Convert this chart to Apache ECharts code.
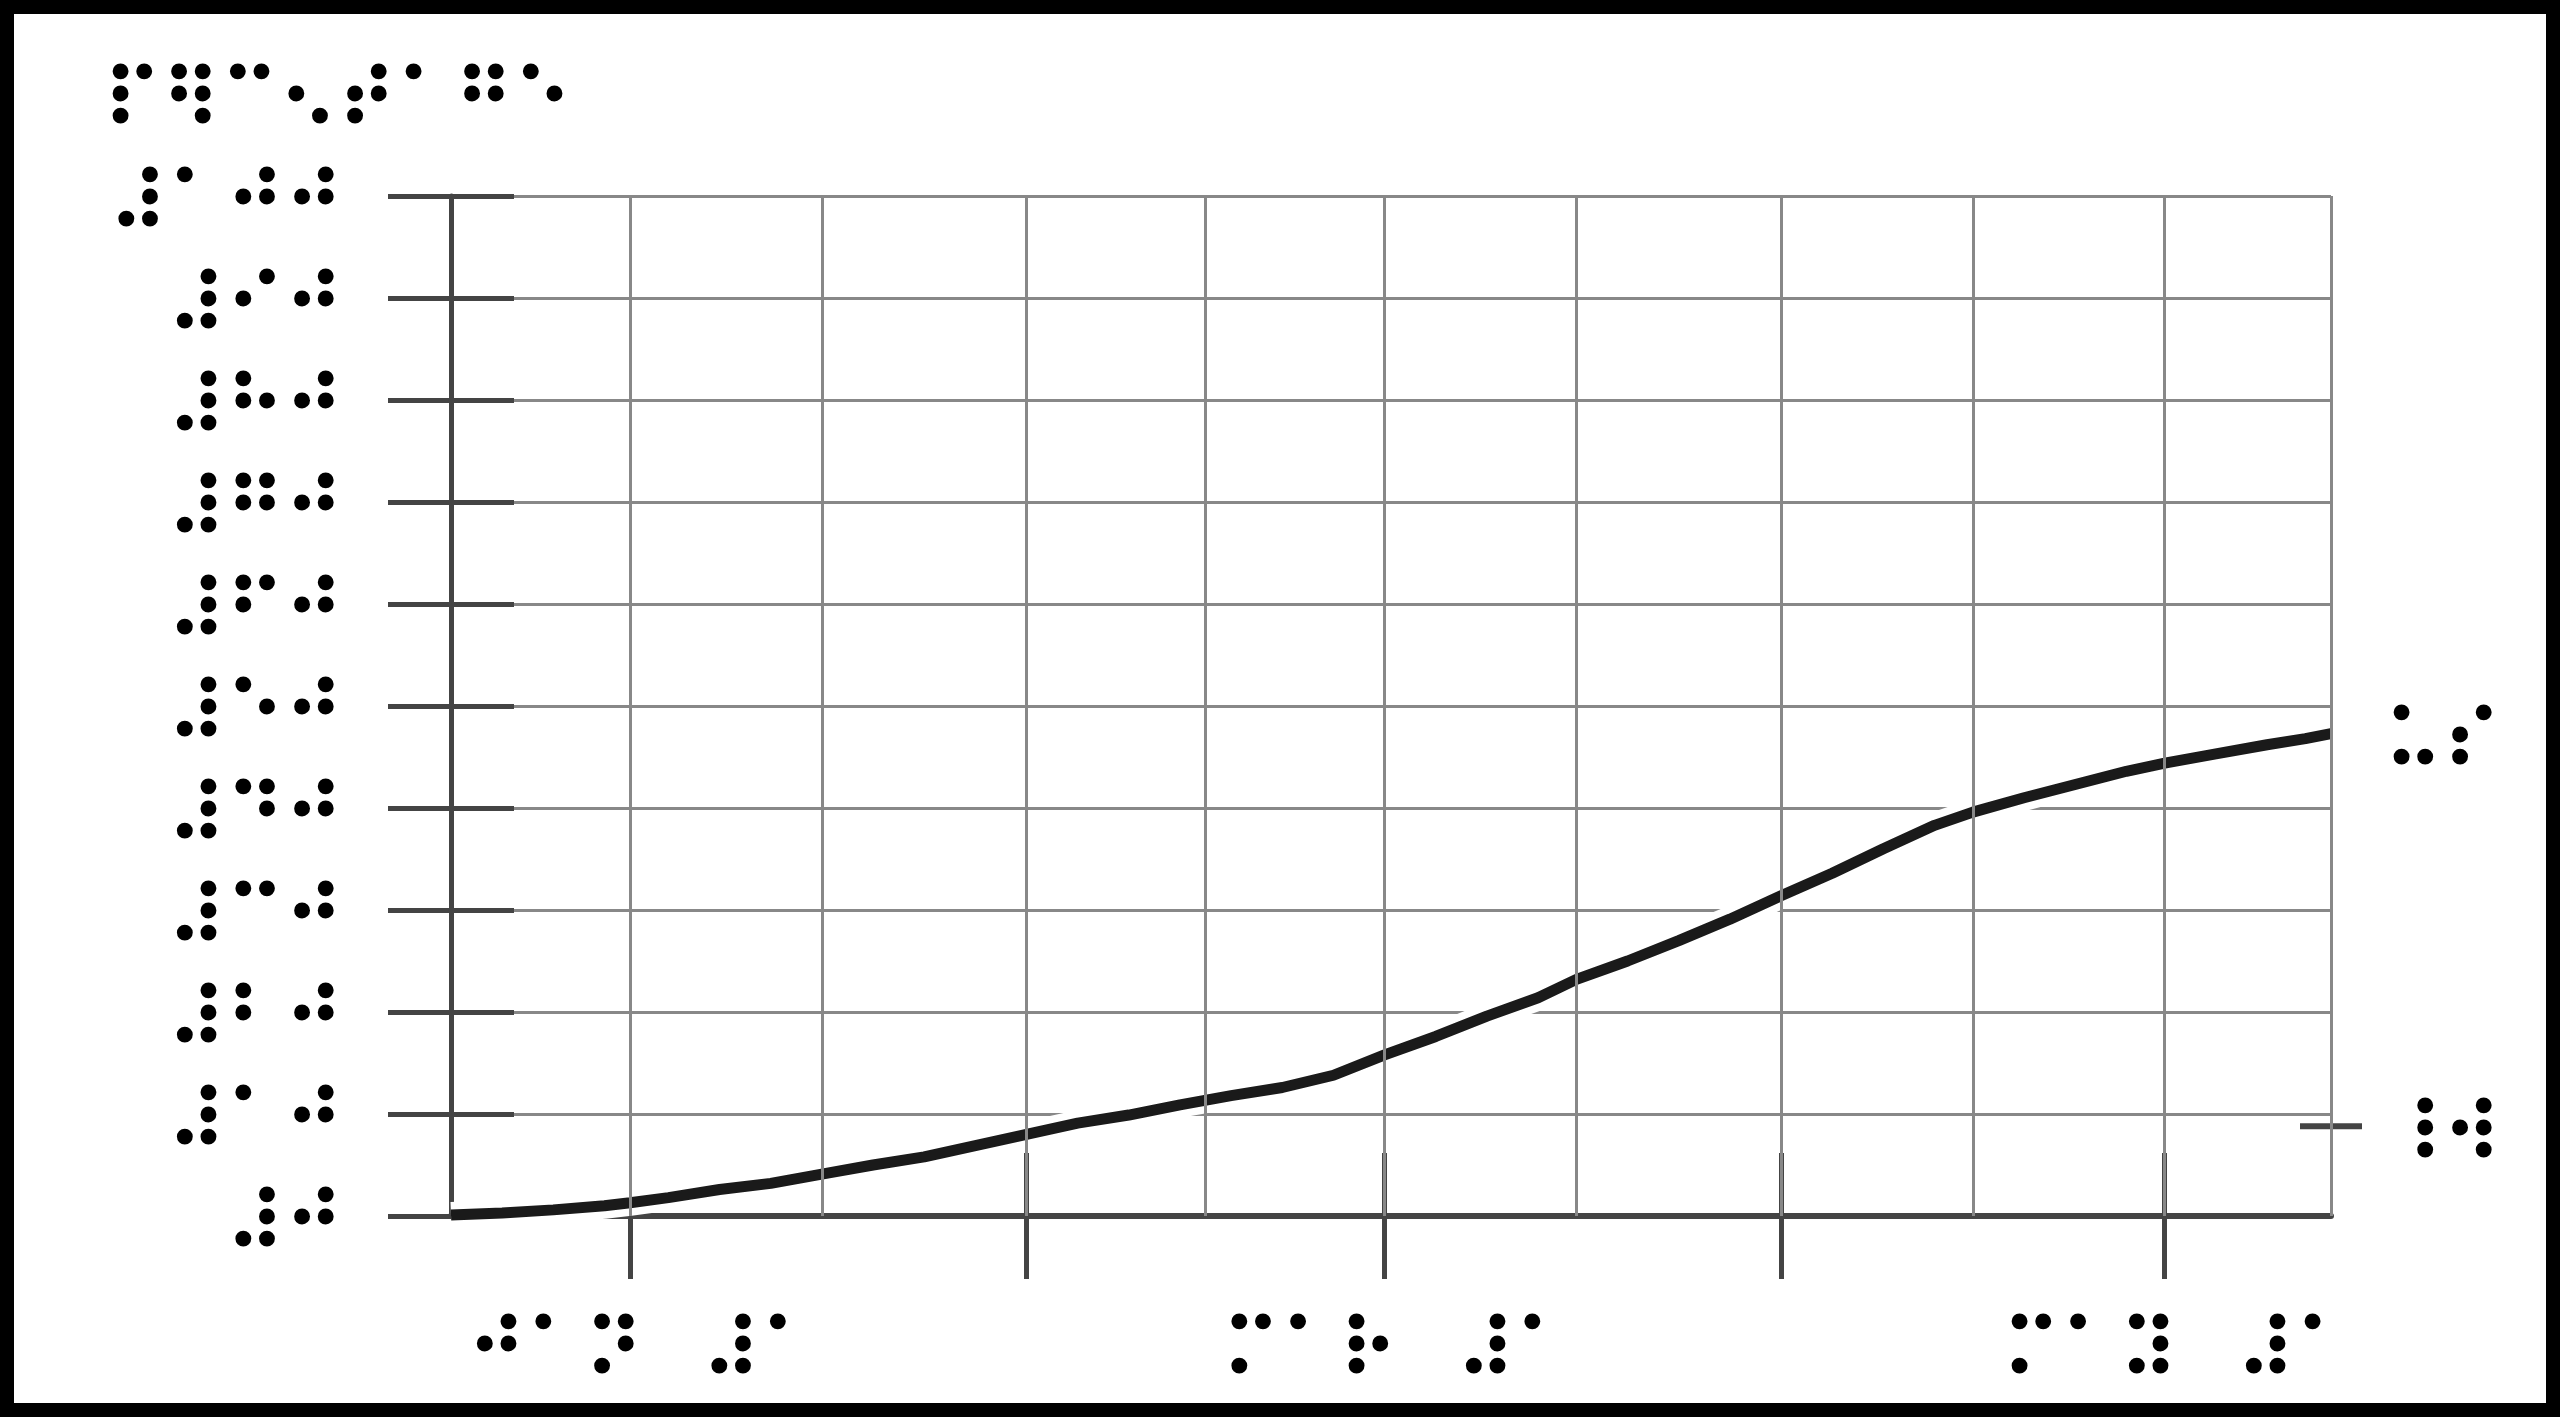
<!DOCTYPE html>
<html><head><meta charset="utf-8">
<script src="https://cdn.jsdelivr.net/npm/echarts@6/dist/echarts.min.js"></script>
<style>html,body{margin:0;padding:0;background:#fff}#c{width:2560px;height:1417px}</style>
</head><body><div id="c"></div>
<script>
const titleText = '⠏⠻⠉⠢⠞⠁⠛⠑';
const yTickValues = [0, 10, 20, 30, 40, 50, 60, 70, 80, 90, 100];
const yTickLabels = ['⠼⠚', '⠼⠁⠚', '⠼⠃⠚', '⠼⠉⠚', '⠼⠙⠚', '⠼⠑⠚', '⠼⠋⠚', '⠼⠛⠚', '⠼⠓⠚', '⠼⠊⠚', '⠼⠁⠚⠚'];
const xMin = '2020-12-18';
const xMax = '2021-05-14';
const gridDates = ['2021-01-01', '2021-01-16', '2021-02-01', '2021-02-15', '2021-03-01', '2021-03-16', '2021-04-01', '2021-04-16', '2021-05-01', '2021-05-14'];
const monthTickDates = ['2021-01-01', '2021-02-01', '2021-03-01', '2021-04-01', '2021-05-01'];
const innerTickDates = ['2021-02-01', '2021-03-01', '2021-04-01', '2021-05-01'];
const xLabelDates = ['2021-01-01', '2021-03-01', '2021-05-01'];
const xLabelTexts = ['⠚⠁⠝⠀⠼⠁', '⠍⠁⠗⠀⠼⠁', '⠍⠁⠽⠀⠼⠁'];
const usName = '⠥⠎';
const usDates = ['2020-12-18', '2020-12-22', '2020-12-26', '2020-12-30', '2021-01-01', '2021-01-04', '2021-01-08', '2021-01-12', '2021-01-16', '2021-01-20', '2021-01-24', '2021-01-28', '2021-02-01', '2021-02-05', '2021-02-09', '2021-02-13', '2021-02-17', '2021-02-21', '2021-02-25', '2021-03-01', '2021-03-05', '2021-03-09', '2021-03-13', '2021-03-16', '2021-03-20', '2021-03-24', '2021-03-28', '2021-04-01', '2021-04-05', '2021-04-09', '2021-04-13', '2021-04-16', '2021-04-20', '2021-04-24', '2021-04-28', '2021-05-01', '2021-05-05', '2021-05-09', '2021-05-12', '2021-05-14'];
const usValues = [0.1, 0.3, 0.6, 1.0, 1.3, 1.8, 2.6, 3.2, 4.1, 5.0, 5.8, 6.9, 8.0, 9.1, 9.9, 10.9, 11.8, 12.6, 13.8, 15.8, 17.6, 19.6, 21.4, 23.2, 25.0, 27.0, 29.1, 31.4, 33.6, 36.0, 38.3, 39.6, 41.0, 42.3, 43.6, 44.4, 45.3, 46.2, 46.8, 47.3];
const worldName = '⠸⠺';
const worldDate = '2021-05-14';
const worldValue = 8.8;

const ts = s => new Date(s + 'T00:00:00').getTime();
const FONT = 'DejaVu Serif';
const FS = 80;
const AX = '#444';
const DOT = { fontFamily: FONT, fontSize: FS, color: '#000', textBorderColor: '#000', textBorderWidth: 3 };
const usData = usDates.map((d, i) => [ts(d), usValues[i]]);
const labelTs = xLabelDates.map(ts);

const chart = echarts.init(document.getElementById('c'));
chart.setOption({
  animation: false,
  backgroundColor: '#fff',
  title: { text: titleText, left: 98, top: 62, textStyle: Object.assign({ fontWeight: 'normal' }, DOT) },
  grid: { left: 451, right: 229, top: 196, bottom: 201, containLabel: false },
  xAxis: [
    {
      type: 'value', min: ts(xMin), max: ts(xMax), position: 'bottom',
      axisLine: { show: true, onZero: false, lineStyle: { color: AX, width: 6 } },
      axisTick: { show: true, customValues: monthTickDates.map(ts), length: 63, lineStyle: { color: AX, width: 5 } },
      axisLabel: Object.assign({
        show: true, customValues: labelTs, margin: 101, padding: [0, 0, 0, 26],
        formatter: v => { const i = labelTs.indexOf(v); return i >= 0 ? xLabelTexts[i] : ''; }
      }, DOT),
      splitLine: { show: false }
    },
    {
      type: 'value', min: ts(xMin), max: ts(xMax), position: 'bottom',
      axisLine: { show: false, onZero: false },
      axisTick: { show: true, inside: true, customValues: innerTickDates.map(ts), length: 63, lineStyle: { color: AX, width: 5 } },
      axisLabel: { show: false }, splitLine: { show: false }
    }
  ],
  yAxis: [
    {
      type: 'value', min: 0, max: 100, interval: 10, position: 'left',
      axisLine: { show: true, lineStyle: { color: AX, width: 5 } },
      axisTick: { show: true, length: 63, lineStyle: { color: AX, width: 5 } },
      axisLabel: Object.assign({
        margin: 108, verticalAlign: 'top', lineHeight: 29, formatter: v => yTickLabels[yTickValues.indexOf(v)]
      }, DOT),
      splitLine: { show: true, lineStyle: { color: '#888', width: 3 } }
    },
    {
      type: 'value', min: 0, max: 100, interval: 10, position: 'left',
      axisLine: { show: false },
      axisTick: { show: true, inside: true, length: 63, lineStyle: { color: AX, width: 5 } },
      axisLabel: { show: false }, splitLine: { show: false }
    }
  ],
  series: [
    {
      type: 'line', name: 'grid', data: [], z: 1, silent: true,
      markLine: {
        silent: true, symbol: ['none', 'none'], label: { show: false },
        lineStyle: { color: '#888', width: 3, type: 'solid' },
        data: gridDates.map(d => ({ xAxis: ts(d) }))
      }
    },
    {
      type: 'line', name: 'halo', data: usData, z: 2, silent: true, showSymbol: false,
      lineStyle: { color: '#fff', width: 26 }
    },
    {
      type: 'line', name: usName, data: usData, z: 3, showSymbol: false,
      lineStyle: { color: '#1a1a1a', width: 11 },
      endLabel: Object.assign({ show: true, formatter: usName, distance: 53, offset: [0, 15] }, DOT)
    },
    {
      type: 'scatter', name: worldName, data: [[ts(worldDate), worldValue]], z: 3,
      symbol: 'rect', symbolSize: [62, 6], itemStyle: { color: AX, opacity: 1 },
      label: Object.assign({ show: true, position: 'right', distance: 22, offset: [0, 15], formatter: worldName }, DOT)
    }
  ],
  graphic: [
    { type: 'rect', z: 100, shape: { x: 7, y: 7, width: 2546, height: 1403 }, style: { fill: 'none', stroke: '#000', lineWidth: 14 } }
  ]
});
</script></body></html>
